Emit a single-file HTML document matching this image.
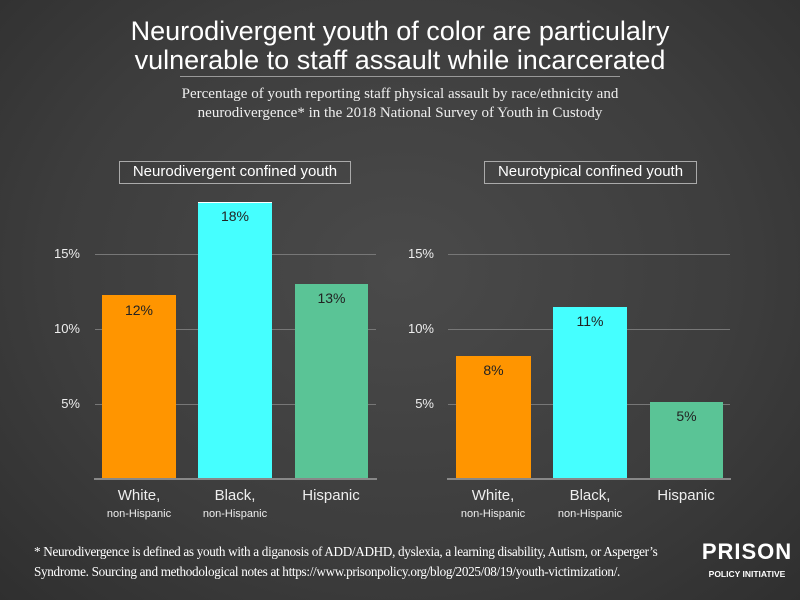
<!DOCTYPE html>
<html><head><meta charset="utf-8"><style>
body{margin:0;width:800px;height:600px;overflow:hidden;background:radial-gradient(ellipse at 50% 45%,#4a4a4a 0%,#3d3d3d 60%,#2f2f2f 100%);font-family:"Liberation Sans",sans-serif;color:#fff;position:relative}
.a{position:absolute}
.t{left:0;width:800px;text-align:center;font-size:27px;line-height:29px;top:17px}
.sub{left:0;width:800px;text-align:center;font-family:"Liberation Serif",serif;font-size:15px;line-height:19px;top:85px;color:#eee}
.grid{height:1px;background:#777}
.base{height:2px;background:#888}
.tick{font-size:13px;text-align:right;width:40px;color:#eee}
.val{font-size:14px;color:#222;text-align:center}
.box{border:1px solid #aaa;font-size:15px;text-align:center;line-height:20px;color:#fff}
.xl{font-size:15px;text-align:center;width:110px;color:#eee}
.xs{font-size:11px;text-align:center;width:110px;color:#eee}
.fn{left:34px;top:542px;font-family:"Liberation Serif",serif;font-size:13.2px;letter-spacing:-0.32px;line-height:20px;color:#fff;width:680px;white-space:nowrap}
</style></head><body>
<div class="a t">Neurodivergent youth of color are particulalry<br>vulnerable to staff assault while incarcerated</div>
<div class="a" style="left:180px;top:76px;width:440px;height:1px;background:#999"></div>
<div class="a sub">Percentage of youth reporting staff physical assault by race/ethnicity and<br>neurodivergence* in the 2018 National Survey of Youth in Custody</div>

<div class="a box" style="left:119px;top:161px;width:230px;height:21px">Neurodivergent confined youth</div>
<div class="a grid" style="left:95px;width:281px;top:254px"></div>
<div class="a grid" style="left:95px;width:281px;top:329px"></div>
<div class="a grid" style="left:95px;width:281px;top:404px"></div>
<div class="a tick" style="left:40px;top:246px">15%</div>
<div class="a tick" style="left:40px;top:321px">10%</div>
<div class="a tick" style="left:40px;top:396px">5%</div>
<div class="a" style="left:102px;top:295px;width:74px;height:184px;background:#ff9500"></div>
<div class="a" style="left:198px;top:202px;width:74px;height:277px;background:#45ffff;border-top:1px solid #fff"></div>
<div class="a" style="left:295px;top:284px;width:73px;height:195px;background:#5ac496"></div>
<div class="a val" style="left:102px;top:302px;width:74px">12%</div>
<div class="a val" style="left:198px;top:208px;width:74px">18%</div>
<div class="a val" style="left:295px;top:290px;width:73px">13%</div>
<div class="a base" style="left:94px;width:283px;top:478px"></div>
<div class="a xl" style="left:84px;top:487px">White,</div>
<div class="a xs" style="left:84px;top:508px">non-Hispanic</div>
<div class="a xl" style="left:180px;top:487px">Black,</div>
<div class="a xs" style="left:180px;top:508px">non-Hispanic</div>
<div class="a xl" style="left:276px;top:487px">Hispanic</div>

<div class="a box" style="left:484px;top:161px;width:211px;height:21px">Neurotypical confined youth</div>
<div class="a grid" style="left:448px;width:282px;top:254px"></div>
<div class="a grid" style="left:448px;width:282px;top:329px"></div>
<div class="a grid" style="left:448px;width:282px;top:404px"></div>
<div class="a tick" style="left:394px;top:246px">15%</div>
<div class="a tick" style="left:394px;top:321px">10%</div>
<div class="a tick" style="left:394px;top:396px">5%</div>
<div class="a" style="left:456px;top:356px;width:75px;height:123px;background:#ff9500"></div>
<div class="a" style="left:553px;top:307px;width:74px;height:172px;background:#45ffff"></div>
<div class="a" style="left:650px;top:402px;width:73px;height:77px;background:#5ac496"></div>
<div class="a val" style="left:456px;top:362px;width:75px">8%</div>
<div class="a val" style="left:553px;top:313px;width:74px">11%</div>
<div class="a val" style="left:650px;top:408px;width:73px">5%</div>
<div class="a base" style="left:447px;width:284px;top:478px"></div>
<div class="a xl" style="left:438px;top:487px">White,</div>
<div class="a xs" style="left:438px;top:508px">non-Hispanic</div>
<div class="a xl" style="left:535px;top:487px">Black,</div>
<div class="a xs" style="left:535px;top:508px">non-Hispanic</div>
<div class="a xl" style="left:631px;top:487px">Hispanic</div>

<div class="a fn">* Neurodivergence is defined as youth with a diganosis of ADD/ADHD, dyslexia, a learning disability, Autism, or Asperger’s<br>Syndrome. Sourcing and methodological notes at https://www.prisonpolicy.org/blog/2025/08/19/youth-victimization/.</div>
<div class="a" style="left:700px;top:539px;width:94px;text-align:center;font-size:22px;font-weight:bold;letter-spacing:1px;line-height:26px">PRISON</div>
<div class="a" style="left:700px;top:568px;width:94px;text-align:center;font-size:8.5px;font-weight:bold;line-height:12px">POLICY INITIATIVE</div>
</body></html>
